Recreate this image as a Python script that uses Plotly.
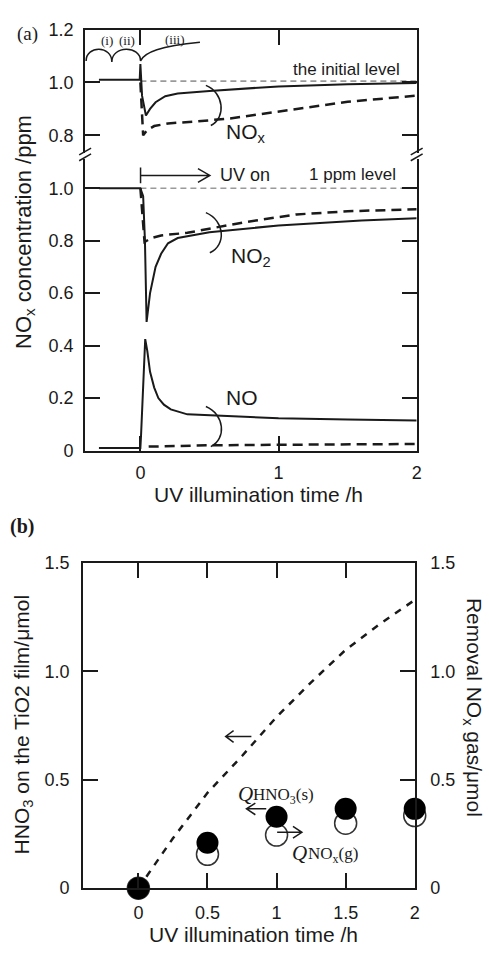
import plotly.graph_objects as go

# ---------------- data: panel (a) ----------------
# top sub-panel (NOx)
t_nox_solid = [-0.3, -0.005, 0.0, 0.012, 0.04, 0.07, 0.11, 0.18, 0.27, 0.5, 1.0, 1.5, 2.0]
nox_solid = [1.01, 1.01, 1.07, 0.95, 0.875, 0.90, 0.925, 0.948, 0.958, 0.968, 0.985, 0.993, 0.998]
t_nox_dash = [0.0, 0.02, 0.05, 0.1, 0.2, 0.4, 0.65, 1.0, 1.13, 1.5, 2.0]
nox_dash = [1.0, 0.80, 0.82, 0.835, 0.845, 0.852, 0.864, 0.89, 0.90, 0.927, 0.95]
t_ref = [0.0, 2.0]
initial_level = [1.005, 1.005]

# bottom sub-panel (NO2, NO)
t_no2_solid = [-0.3, 0.0, 0.02, 0.033, 0.045, 0.07, 0.11, 0.15, 0.2, 0.27, 0.5, 1.0, 1.6, 2.0]
no2_solid = [1.0, 1.0, 0.97, 0.80, 0.49, 0.60, 0.70, 0.75, 0.79, 0.81, 0.832, 0.858, 0.877, 0.885]
t_no2_dash = [0.0, 0.02, 0.03, 0.08, 0.15, 0.34, 0.5, 0.75, 1.13, 1.5, 2.0]
no2_dash = [1.0, 0.85, 0.795, 0.81, 0.82, 0.83, 0.845, 0.87, 0.90, 0.912, 0.92]
t_no_solid = [-0.3, 0.0, 0.005, 0.035, 0.05, 0.07, 0.1, 0.13, 0.17, 0.22, 0.34, 0.6, 1.0, 1.5, 2.0]
no_solid = [0.01, 0.01, 0.06, 0.425, 0.38, 0.30, 0.24, 0.20, 0.175, 0.157, 0.138, 0.132, 0.123, 0.118, 0.115]
t_no_dash = [0.06, 0.5, 1.0, 2.0]
no_dash = [0.015, 0.02, 0.022, 0.025]
ppm_level = [1.0, 1.0]

# ---------------- data: panel (b) ----------------
t_curve = [0, 0.25, 0.5, 0.75, 1.0, 1.25, 1.5, 1.75, 2.0]
hno3_curve = [0, 0.23, 0.44, 0.61, 0.79, 0.95, 1.10, 1.22, 1.33]
t_pts = [0, 0.5, 1.0, 1.5, 2.0]
q_hno3 = [0, 0.21, 0.33, 0.366, 0.366]
q_nox = [0, 0.156, 0.245, 0.30, 0.335]

a_top_ticks = [0.8, 1.0, 1.2]
a_top_ticktext = ["0.8", "1.0", "1.2"]
a_bot_ticks = [0, 0.2, 0.4, 0.6, 0.8, 1.0]
a_bot_ticktext = ["0", "0.2", "0.4", "0.6", "0.8", "1.0"]
a_x_ticks = [0, 1, 2]
b_x_ticks = [0, 0.5, 1, 1.5, 2]
b_x_ticktext = ["0", "0.5", "1", "1.5", "2"]
b_y_ticks = [0, 0.5, 1.0, 1.5]
b_y_ticktext = ["0", "0.5", "1.0", "1.5"]

W, H = 489, 953
def PX(x):
    return x / W
def PY(y):
    return 1 - y / H

SANS = "Liberation Sans, Arial, sans-serif"
SERIF = "Liberation Serif, Times New Roman, serif"
INK = "#1a1a1a"

fig = go.Figure()

solid = dict(color=INK, width=2)
dashed = dict(color=INK, width=2.5, dash="10px,6px")
gray = dict(color="#9a9a9a", width=1.6, dash="6px,4px")

# panel (a) top
fig.add_trace(go.Scatter(x=t_ref, y=initial_level, mode="lines", line=gray, xaxis="x2", yaxis="y2"))
fig.add_trace(go.Scatter(x=t_nox_solid, y=nox_solid, mode="lines", line=solid, xaxis="x2", yaxis="y2"))
fig.add_trace(go.Scatter(x=t_nox_dash, y=nox_dash, mode="lines", line=dashed, xaxis="x2", yaxis="y2"))
# panel (a) bottom
fig.add_trace(go.Scatter(x=t_ref, y=ppm_level, mode="lines", line=gray, xaxis="x", yaxis="y"))
fig.add_trace(go.Scatter(x=t_no2_solid, y=no2_solid, mode="lines", line=solid, xaxis="x", yaxis="y"))
fig.add_trace(go.Scatter(x=t_no2_dash, y=no2_dash, mode="lines", line=dashed, xaxis="x", yaxis="y"))
fig.add_trace(go.Scatter(x=t_no_solid, y=no_solid, mode="lines", line=solid, xaxis="x", yaxis="y"))
fig.add_trace(go.Scatter(x=t_no_dash, y=no_dash, mode="lines", line=dashed, xaxis="x", yaxis="y"))
# panel (b): y3 = right axis (removal NOx gas, base), y4 = left axis (HNO3, overlaying -> drawn on top)
fig.add_trace(go.Scatter(x=t_pts, y=q_nox, mode="markers", xaxis="x3", yaxis="y3", cliponaxis=False,
                         marker=dict(size=22, color="white", line=dict(color="#333", width=1.5))))
fig.add_trace(go.Scatter(x=t_curve, y=hno3_curve, mode="lines",
                         line=dict(color=INK, width=2.5, dash="7px,7px"), xaxis="x3", yaxis="y4"))
fig.add_trace(go.Scatter(x=t_pts, y=q_hno3, mode="markers", xaxis="x3", yaxis="y4", cliponaxis=False,
                         marker=dict(size=22, color="black", line=dict(color="black", width=0))))

tickfont = dict(family=SANS, size=18, color=INK)
common = dict(showgrid=False, zeroline=False, showline=True, linecolor=INK, linewidth=2,
              ticks="inside", ticklen=15, tickwidth=2, tickcolor=INK, tickfont=tickfont)

ax_dom = [PX(86), PX(421)]
fig.update_layout(
    width=W, height=H, autosize=False, showlegend=False,
    margin=dict(l=0, r=0, t=0, b=0),
    paper_bgcolor="white", plot_bgcolor="white",
    xaxis=dict(domain=ax_dom, anchor="y", range=[-0.4, 2], tickmode="array", tickvals=a_x_ticks,
               ticktext=["0", "1", "2"], ticklabelstandoff=5, **common),
    yaxis=dict(domain=[PY(450), PY(152)], anchor="x", range=[0, 1.112], tickmode="array",
               tickvals=a_bot_ticks, ticktext=a_bot_ticktext, mirror="ticks", ticklabelstandoff=6, **common),
    xaxis2=dict(domain=ax_dom, anchor="y2", side="top", range=[-0.4, 2], tickmode="array",
                tickvals=[0, 1], showticklabels=False, **common),
    yaxis2=dict(domain=[PY(146), PY(20)], anchor="x2", range=[0.7333, 1.2], tickmode="array",
                tickvals=a_top_ticks, ticktext=a_top_ticktext, mirror="ticks", ticklabelstandoff=6, **common),
    xaxis3=dict(domain=[PX(84), PX(419)], anchor="y3", range=[-0.4, 2], tickmode="array",
                tickvals=b_x_ticks, ticktext=b_x_ticktext, mirror="ticks", ticklabelstandoff=7, **common),
    yaxis3=dict(domain=[PY(897), PY(565)], anchor="x3", side="right", range=[0, 1.5], tickmode="array",
                tickvals=b_y_ticks, ticktext=b_y_ticktext, ticklabelstandoff=10, **common),
    yaxis4=dict(overlaying="y3", anchor="x3", side="left", range=[0, 1.5], tickmode="array",
                tickvals=b_y_ticks, ticktext=b_y_ticktext, ticklabelstandoff=8, **common),
)

def P(cmds):
    """Build an SVG path in paper coords from pixel tuples."""
    out = []
    for c in cmds:
        if isinstance(c, str):
            out.append(c)
        else:
            out.append(f"{PX(c[0]):.5f},{PY(c[1]):.5f}")
    return " ".join(out)

shapes = []
def add_path(cmds, width=1.5):
    shapes.append(dict(type="path", xref="paper", yref="paper", path=P(cmds),
                       line=dict(color=INK, width=width), fillcolor="rgba(0,0,0,0)"))

# brackets ")"
add_path(["M", (208, 77), "C", (226, 84), (229, 110), (213, 118)])
add_path(["M", (208, 207), "C", (227, 215), (229, 240), (212, 248)])
add_path(["M", (208, 405), "C", (227, 413), (229, 438), (213, 446)])
# scallops (i), (ii) and (iii) curve
add_path(["M", (87, 52), "C", (87, 36), (113, 36), (113, 53),
          "C", (113, 36), (142, 36), (142, 52),
          "C", (146, 43), (162, 37), (202, 33)])
# UV on arrow
add_path(["M", (142, 161), "L", (142, 177), "M", (142, 169), "L", (212, 169),
          "M", (200, 162), "L", (212, 169), "L", (200, 176)])
# panel (b) arrows
add_path(["M", (228, 742), "L", (254, 742), "M", (236, 736), "L", (228, 742), "L", (236, 748)])
add_path(["M", (249, 816), "L", (269, 816), "M", (258, 810), "L", (249, 816), "L", (258, 822)])
add_path(["M", (280, 840), "L", (305, 840), "M", (296, 834), "L", (305, 840), "L", (296, 846)])
# axis break marks
for bx in (86, 421):
    add_path(["M", (bx - 6, 148), "L", (bx + 6, 141)], width=1.5)
    add_path(["M", (bx - 6, 154), "L", (bx + 6, 147)], width=1.5)
fig.update_layout(shapes=shapes)

def T(text, x, y, size, family=SANS, xanchor="center", angle=0, color=INK):
    return dict(text=text, x=PX(x), y=PY(y), xref="paper", yref="paper", showarrow=False,
                xanchor=xanchor, yanchor="middle", textangle=angle,
                font=dict(family=family, size=size, color=color))

ann = [
    T("(a)", 28, 25, 19, SERIF),
    T("(i)", 108, 31, 13, SERIF),
    T("(ii)", 128, 31, 13, SERIF),
    T("(iii)", 177, 30, 13, SERIF),
    T("the initial level", 350, 61, 17),
    T("NO<sub>x</sub>", 226, 126, 21, xanchor="left"),
    T("UV on", 220, 169, 18, xanchor="left"),
    T("1 ppm level", 310, 168, 17, xanchor="left"),
    T("NO<sub>2</sub>", 231, 252, 21, xanchor="left"),
    T("NO", 226, 396, 21, xanchor="left"),
    T("NO<sub>x</sub> concentration /ppm", 25, 227, 22, angle=-90),
    T("UV illumination time /h", 261, 495, 21),
    T("<b>(b)</b>", 22, 528, 20, SERIF),
    T("HNO<sub>3</sub> on the TiO2 film/μmol", 23, 730, 21, angle=-90),
    T("Removal NO<sub>x</sub> gas/μmol", 478, 712, 21, angle=90),
    T("UV illumination time /h", 256, 944, 21),
    T("<i>Q</i>", 248, 801, 21, SERIF),
    T("HNO<sub>3</sub>(s)", 254, 803, 17, SERIF, xanchor="left"),
    T("<i>Q</i>", 303, 861, 21, SERIF),
    T("NO<sub>x</sub>(g)", 309, 863, 17, SERIF, xanchor="left"),
]
fig.update_layout(annotations=ann)

fig.write_html("out.html")
